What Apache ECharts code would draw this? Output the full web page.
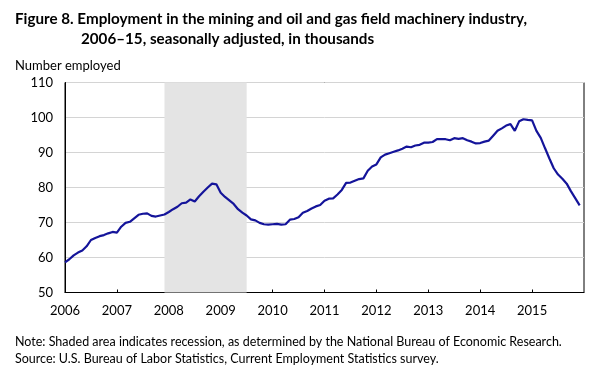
<!DOCTYPE html>
<html><head><meta charset="utf-8">
<script src="https://cdn.jsdelivr.net/npm/echarts@6/dist/echarts.min.js"></script>
<style>html,body{margin:0;padding:0;background:#fff}#c{width:604px;height:373px}</style>
</head><body><div id="c"></div>
<script>
var startYear = 2006;
var yearLabels = ['2006','2007','2008','2009','2010','2011','2012','2013','2014','2015'];
var yTicks = [50,60,70,80,90,100,110];
// Monthly employment, Jan 2006 - Dec 2015, thousands
var employment = [
 58.6,59.5,60.6,61.4,62.0,63.2,65.0,65.6,66.1,66.4,66.9,67.3,
 67.1,68.8,69.9,70.2,71.2,72.2,72.5,72.6,71.9,71.7,72.0,72.3,
 73.0,73.8,74.5,75.5,75.7,76.6,76.0,77.5,78.8,80.0,81.1,80.9,
 78.5,77.3,76.3,75.3,73.8,72.8,72.0,70.9,70.6,69.9,69.5,69.4,
 69.5,69.6,69.4,69.5,70.8,71.0,71.5,72.8,73.3,74.0,74.6,75.0,
 76.2,76.8,76.9,78.0,79.3,81.3,81.4,81.9,82.4,82.6,84.8,86.0,
 86.6,88.6,89.4,89.8,90.2,90.6,91.1,91.7,91.5,92.0,92.2,92.8,
 92.8,93.0,93.8,93.8,93.8,93.5,94.1,93.9,94.1,93.5,93.1,92.6,
 92.7,93.1,93.4,94.8,96.2,96.9,97.7,98.1,96.2,98.9,99.5,99.3,
 99.2,96.2,94.2,91.2,88.3,85.5,83.7,82.5,81.1,78.9,76.9,74.9
];
// Recession: Dec 2007 - Jun 2009 (month index from Jan 2006)
var recession = [23, 42];

var FONT = "Lato, sans-serif";
var chart = echarts.init(document.getElementById('c'), null, {renderer:'canvas'});
var data = employment.map(function(v,i){return [i,v];});
chart.setOption({
  animation:false,
  backgroundColor:'#fff',
  title:[
    {text:'Figure 8. Employment in the mining and oil and gas field machinery industry,', left:10, top:7,
     textStyle:{fontFamily:FONT, fontWeight:'bold', fontSize:15.2, color:'#000'}},
    {text:'2006–15, seasonally adjusted, in thousands', left:76, top:27,
     textStyle:{fontFamily:FONT, fontWeight:'bold', fontSize:15.2, color:'#000'}},
    {text:'Number employed', left:10, top:54,
     textStyle:{fontFamily:FONT, fontWeight:'normal', fontSize:13, color:'#000'}},
    {text:'Note: Shaded area indicates recession, as determined by the National Bureau of Economic Research.', left:10, top:330,
     textStyle:{fontFamily:FONT, fontWeight:'normal', fontSize:12.5, color:'#000'}},
    {text:'Source: U.S. Bureau of Labor Statistics, Current Employment Statistics survey.', left:10, top:347,
     textStyle:{fontFamily:FONT, fontWeight:'normal', fontSize:12.5, color:'#000'}}
  ],
  grid:{left:65, right:20, top:82.5, bottom:80.5, show:true, borderColor:'#000', borderWidth:1, backgroundColor:'transparent'},
  xAxis:{type:'value', min:0, max:120, interval:12,
    axisLine:{show:true, onZero:false, lineStyle:{color:'#000', width:1}},
    axisTick:{show:true, inside:true, length:3, lineStyle:{color:'#000'}},
    splitLine:{show:false},
    axisLabel:{margin:12, color:'#000', fontFamily:FONT, fontSize:13,
      formatter:function(v){var k=Math.round(v/12); return k<yearLabels.length?yearLabels[k]:'';},
      showMaxLabel:false}
  },
  yAxis:{type:'value', min:yTicks[0], max:yTicks[yTicks.length-1], interval:10,
    axisLine:{show:true, lineStyle:{color:'#000', width:1}},
    axisTick:{show:false},
    splitLine:{show:true, lineStyle:{color:'#d4d4d4', width:1}},
    axisLabel:{margin:12, color:'#000', fontFamily:FONT, fontSize:13}
  },
  series:[{
    type:'line', data:data, showSymbol:false, symbol:'none',
    lineStyle:{color:'#14149a', width:2.2},
    markArea:{silent:true, itemStyle:{color:'#e4e4e4'}, data:[[{xAxis:recession[0]},{xAxis:recession[1]}]]},
    z:3
  }]
});
</script></body></html>
